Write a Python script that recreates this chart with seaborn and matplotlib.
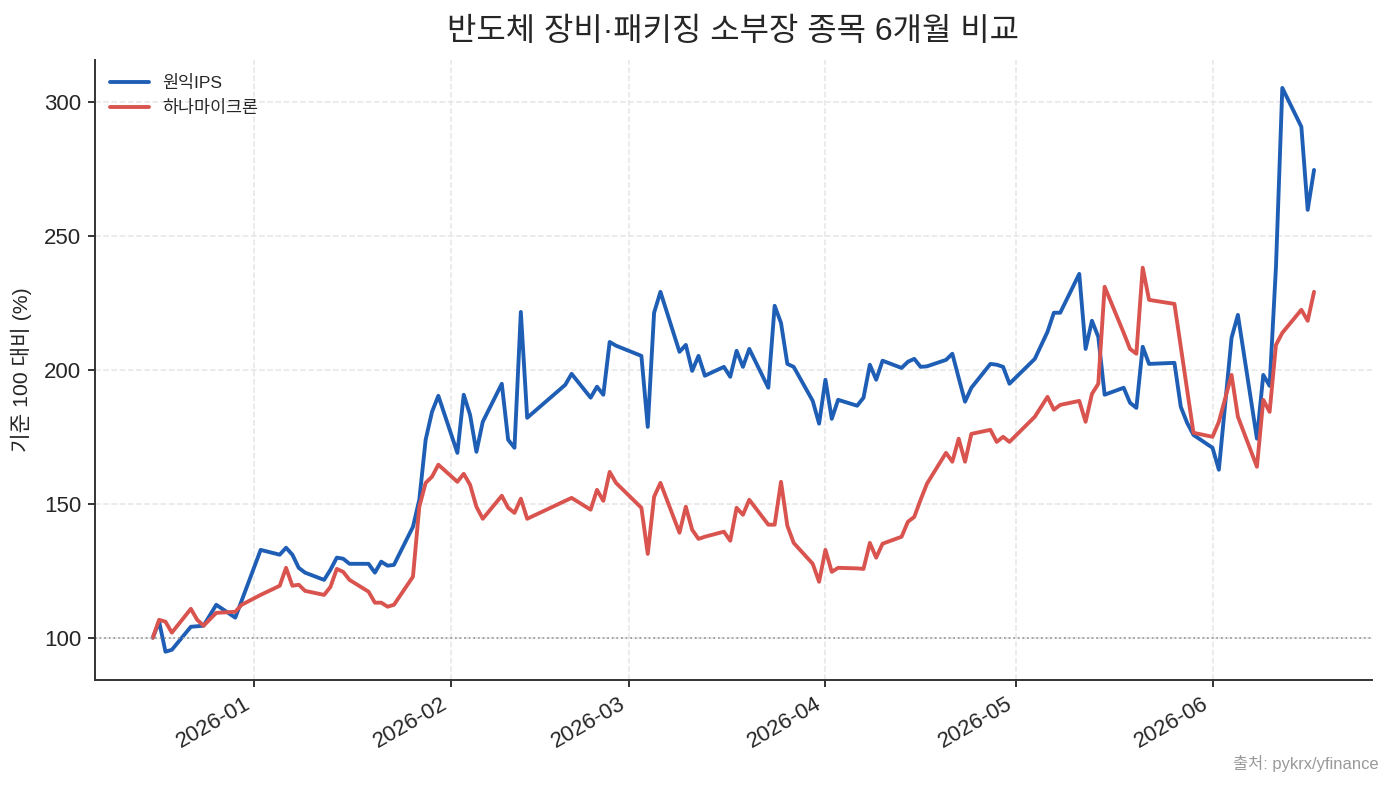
import pandas as pd
import seaborn as sns
import matplotlib.pyplot as plt
import matplotlib.dates as mdates

dates = [
    "2025-12-16", "2025-12-17", "2025-12-18", "2025-12-19", "2025-12-22", "2025-12-23", "2025-12-24", "2025-12-26", "2025-12-29", "2025-12-30",
    "2026-01-02", "2026-01-05", "2026-01-06", "2026-01-07", "2026-01-08", "2026-01-09", "2026-01-12", "2026-01-13", "2026-01-14", "2026-01-15", "2026-01-16",
    "2026-01-19", "2026-01-20", "2026-01-21", "2026-01-22", "2026-01-23", "2026-01-26", "2026-01-27", "2026-01-28", "2026-01-29", "2026-01-30",
    "2026-02-02", "2026-02-03", "2026-02-04", "2026-02-05", "2026-02-06", "2026-02-09", "2026-02-10", "2026-02-11", "2026-02-12", "2026-02-13",
    "2026-02-19", "2026-02-20", "2026-02-23", "2026-02-24", "2026-02-25", "2026-02-26", "2026-02-27",
    "2026-03-03", "2026-03-04", "2026-03-05", "2026-03-06", "2026-03-09", "2026-03-10", "2026-03-11", "2026-03-12", "2026-03-13",
    "2026-03-16", "2026-03-17", "2026-03-18", "2026-03-19", "2026-03-20", "2026-03-23", "2026-03-24", "2026-03-25", "2026-03-26", "2026-03-27",
    "2026-03-30", "2026-03-31", "2026-04-01", "2026-04-02", "2026-04-03", "2026-04-06", "2026-04-07", "2026-04-08", "2026-04-09", "2026-04-10",
    "2026-04-13", "2026-04-14", "2026-04-15", "2026-04-16", "2026-04-17", "2026-04-20", "2026-04-21", "2026-04-22", "2026-04-23", "2026-04-24",
    "2026-04-27", "2026-04-28", "2026-04-29", "2026-04-30", "2026-05-04", "2026-05-06", "2026-05-07", "2026-05-08",
    "2026-05-11", "2026-05-12", "2026-05-13", "2026-05-14", "2026-05-15", "2026-05-18", "2026-05-19", "2026-05-20", "2026-05-21", "2026-05-22",
    "2026-05-26", "2026-05-27", "2026-05-28", "2026-05-29", "2026-06-01", "2026-06-02", "2026-06-04", "2026-06-05",
    "2026-06-08", "2026-06-09", "2026-06-10", "2026-06-11", "2026-06-12", "2026-06-15", "2026-06-16", "2026-06-17",
]

# 원익IPS, 기준 100
ips = [
    100.0, 106.0, 94.8, 95.5, 104.1, 104.3, 104.5, 112.3, 107.5, 113.8,
    132.8, 131.0, 133.6, 131.0, 126.1, 124.3, 121.6, 125.4, 129.9, 129.5, 127.6,
    127.6, 124.3, 128.4, 126.9, 127.2, 141.4, 151.5, 173.9, 184.3, 190.3,
    169.0, 190.7, 183.2, 169.4, 180.6, 194.8, 173.9, 170.9, 221.6, 182.1,
    194.4, 198.5, 189.6, 193.7, 190.7, 210.4, 209.0,
    205.2, 178.7, 221.3, 229.1, 206.7, 209.3, 199.6, 205.2, 197.8,
    201.1, 197.4, 207.1, 201.1, 207.8, 193.3, 223.9, 217.5, 202.2, 201.1,
    188.4, 179.9, 196.3, 181.7, 188.8, 186.6, 189.6, 201.9, 196.3, 203.4,
    200.7, 203.0, 204.1, 201.1, 201.3, 203.7, 206.0, 197.0, 188.1, 193.3,
    202.2, 201.9, 201.1, 194.8, 204.1, 214.2, 221.3, 221.3,
    235.8, 207.8, 218.3, 212.3, 190.7, 193.3, 187.7, 185.8, 208.6, 202.2,
    202.6, 186.2, 180.2, 175.7, 170.9, 162.7, 211.9, 220.5,
    174.3, 198.1, 194.0, 238.4, 305.2, 290.7, 259.7, 274.6,
]

# 하나마이크론, 기준 100
hana = [
    100.0, 106.7, 106.0, 101.9, 110.8, 106.7, 104.5, 109.3, 109.7, 112.3,
    116.0, 119.4, 126.1, 119.4, 119.8, 117.5, 116.0, 119.0, 125.7, 124.6, 121.6,
    117.2, 113.1, 113.1, 111.6, 112.3, 122.8, 148.9, 157.8, 160.1, 164.6,
    158.2, 161.2, 157.1, 148.9, 144.4, 153.0, 148.5, 146.6, 151.9, 144.4,
    151.1, 152.2, 147.8, 155.2, 151.1, 161.9, 157.8,
    148.5, 131.3, 152.6, 157.8, 139.2, 148.9, 140.3, 136.9, 137.7,
    139.6, 136.2, 148.5, 145.9, 151.5, 142.2, 142.2, 158.2, 141.8, 135.4,
    127.6, 120.9, 132.8, 124.6, 126.1, 125.9, 125.7, 135.4, 129.9, 135.1,
    137.7, 143.3, 145.1, 151.5, 157.5, 169.0, 165.7, 174.3, 165.7, 176.1,
    177.6, 173.1, 175.0, 173.1, 182.5, 189.9, 185.1, 186.9,
    188.4, 180.6, 191.0, 194.8, 231.0, 213.8, 207.8, 206.0, 238.1, 226.1,
    224.6, 208.6, 192.5, 176.5, 175.0, 180.6, 198.1, 182.5,
    163.8, 188.8, 184.3, 209.3, 213.8, 222.4, 218.3, 229.1,
]

names = ["원익IPS", "하나마이크론"]
colors = ["#1f5eb5", "#d9534f"]

df = pd.DataFrame({"date": pd.to_datetime(dates), names[0]: ips, names[1]: hana})
long = df.melt(id_vars="date", var_name="종목", value_name="value")

sns.set_style("ticks")
plt.rcParams["font.family"] = ["Liberation Sans", "Noto Sans CJK KR", "DejaVu Sans"]
plt.rcParams["axes.unicode_minus"] = False

DPI = 139.3
fig, ax = plt.subplots(figsize=(1393 / DPI, 786 / DPI), dpi=DPI)
fig.subplots_adjust(left=0.068, right=0.985, top=0.924, bottom=0.135)

sns.lineplot(data=long, x="date", y="value", hue="종목", hue_order=names,
             palette=colors, linewidth=2.0, ax=ax)

ax.axhline(100, color="#999999", linestyle=":", linewidth=0.9)
ax.grid(True, linestyle="--", color="#e6e6e6", linewidth=0.8)
ax.set_axisbelow(True)

ax.xaxis.set_major_locator(mdates.MonthLocator())
ax.xaxis.set_major_formatter(mdates.DateFormatter("%Y-%m"))
plt.setp(ax.get_xticklabels(), rotation=30, ha="right", fontsize=11.5)
plt.setp(ax.get_yticklabels(), fontsize=11.5)

ax.set_xlabel("")
ax.set_ylabel("기준 100 대비 (%)", fontsize=11, labelpad=6)
ax.set_title("반도체 장비·패키징 소부장 종목 6개월 비교", fontsize=16.5, pad=10)

for s in ["top", "right"]:
    ax.spines[s].set_visible(False)
for s in ["left", "bottom"]:
    ax.spines[s].set_color("#333333")
    ax.spines[s].set_linewidth(1.0)
ax.tick_params(color="#333333", width=1.0)

ax.legend(loc="upper left", frameon=False, fontsize=9, handlelength=2.2)

fig.text(0.99, 0.022, "출처: pykrx/yfinance", ha="right", fontsize=8.5, color="#999999")

plt.savefig("out.png", dpi=DPI)
